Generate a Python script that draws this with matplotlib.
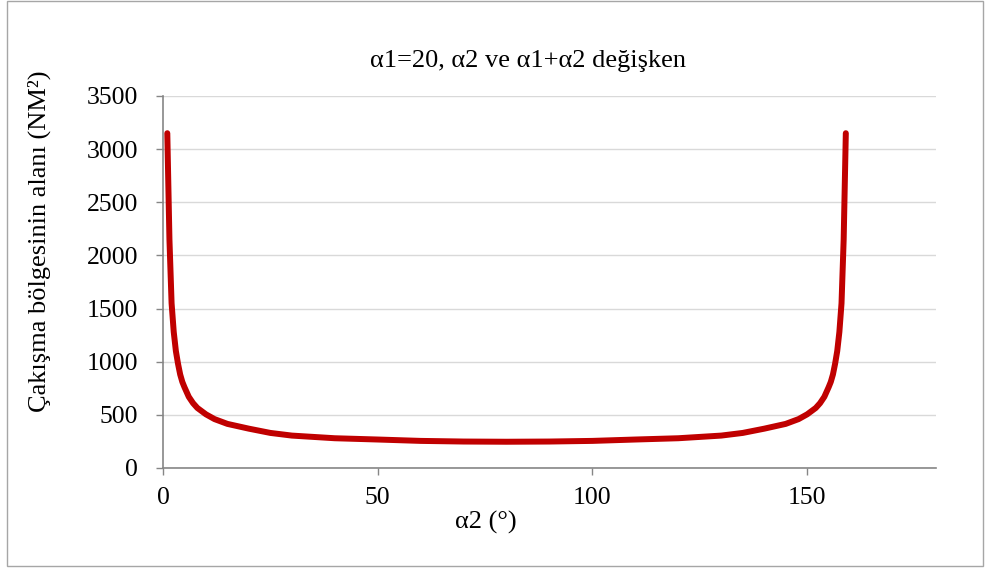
import matplotlib
matplotlib.use("Agg")
import matplotlib.pyplot as plt
from matplotlib.patches import Rectangle

# values
alpha2 = [1, 1.5, 2, 2.5, 3, 3.5, 4, 4.5, 5, 6, 7, 8, 10, 12, 15, 20, 25, 30, 40, 50,
          60, 70, 80, 90, 100, 110, 120, 130, 135, 140, 145, 148, 150, 152, 153, 154,
          155, 155.5, 156, 156.5, 157, 157.5, 158, 158.5, 159]
area = [3150, 2150, 1550, 1280, 1100, 980, 880, 810, 760, 670, 610, 565, 505, 460, 415,
        370, 330, 305, 280, 268, 255, 249, 247, 249, 255, 268, 280, 305, 330, 370, 415,
        460, 505, 565, 610, 670, 760, 810, 880, 980, 1100, 1280, 1550, 2150, 3150]

x_ticks = [0, 50, 100, 150]
y_ticks = [0, 500, 1000, 1500, 2000, 2500, 3000, 3500]

title = "α1=20, α2 ve α1+α2 değişken"
x_label = "α2 (°)"
y_label = "Çakışma bölgesinin alanı (NM²)"

plt.rcParams['font.family'] = ['Liberation Serif', 'DejaVu Serif']
fs = 19

fig = plt.figure(figsize=(9.87, 5.7), dpi=100)
fig.patches.append(Rectangle((7.5 / 987, 4 / 570), 975.5 / 987, 565 / 570,
                             transform=fig.transFigure, fill=False,
                             edgecolor='#a6a6a6', linewidth=1))

ax = fig.add_axes([163 / 987, 1 - 468 / 570, 773 / 987, 372 / 570])
ax.plot(alpha2, area, color='#c00000', linewidth=4.3, solid_capstyle='round',
        solid_joinstyle='round', zorder=3)

ax.set_xlim(0, 180)
ax.set_ylim(0, 3500)
ax.set_xticks(x_ticks)
ax.set_yticks(y_ticks)
ax.grid(axis='y', color='#d9d9d9', linewidth=1)
ax.set_axisbelow(True)

for side in ['top', 'right']:
    ax.spines[side].set_visible(False)
for side in ['left', 'bottom']:
    ax.spines[side].set_color('#868686')
    ax.spines[side].set_linewidth(1.2)

ax.tick_params(axis='both', direction='out', length=5, width=1, color='#868686',
               labelsize=18.5)
ax.tick_params(axis='y', pad=13)
ax.tick_params(axis='x', pad=9)

ax.set_xlabel(x_label, fontsize=fs)
ax.xaxis.set_label_coords(0.417, -0.115)
ax.set_ylabel(y_label, fontsize=fs)
ax.yaxis.set_label_coords(-0.145, 0.609)

fig.text(0.535, 0.893, title, ha='center', va='center', fontsize=fs)

fig.savefig("out.png", dpi=100)
